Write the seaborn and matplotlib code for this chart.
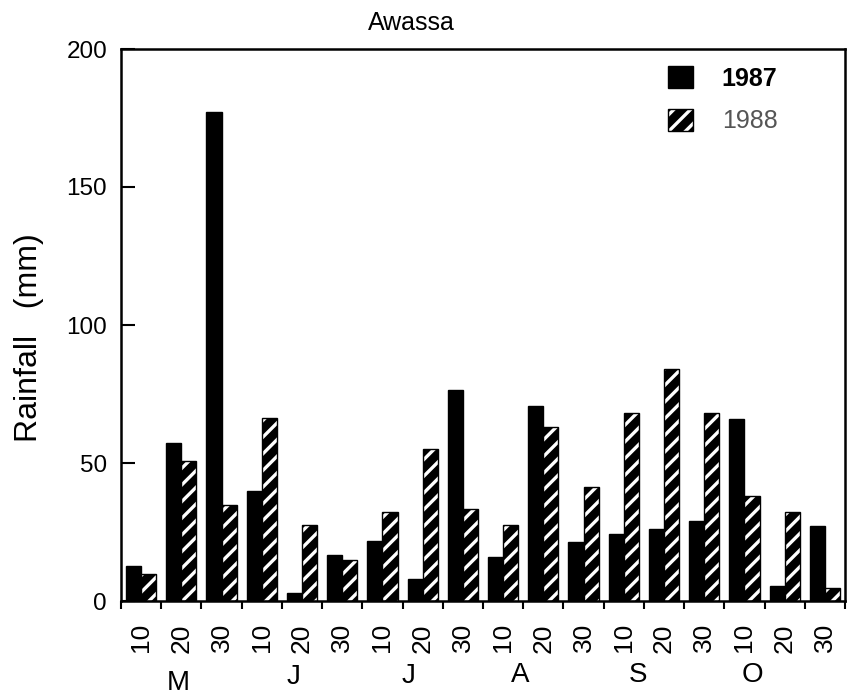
import numpy as np
import pandas as pd
import matplotlib
matplotlib.use("Agg")
import matplotlib.pyplot as plt
import matplotlib.transforms as mtransforms
from matplotlib.patches import Patch
import seaborn as sns

# ---------------- data ----------------
months = ["M", "J", "J", "A", "S", "O"]
dekads = ["10", "20", "30"]
years = ["1987", "1988"]
rain_1987 = [12.7, 57.2, 177.3, 39.8, 3.0, 16.7, 21.7, 7.9, 76.4,
             15.9, 70.8, 21.2, 24.1, 26.1, 29.0, 66.1, 5.6, 27.2]
rain_1988 = [9.7, 50.6, 34.9, 66.4, 27.5, 14.9, 32.3, 54.9, 33.3,
             27.6, 62.9, 41.3, 68.2, 84.1, 68.2, 38.0, 32.1, 4.6]
y_ticks = [0, 50, 100, 150, 200]

periods = [f"{i}-{d}" for i, m in enumerate(months) for d in dekads]
df = pd.DataFrame({
    "period": periods * 2,
    "year": [years[0]] * len(periods) + [years[1]] * len(periods),
    "rain": rain_1987 + rain_1988,
})

# ---------------- layout constants ----------------
W, H = 847, 695
ax_l, ax_r, ax_t, ax_b = 121, 845, 49, 601
month_x = [0.92, 3.78, 6.64, 9.42, 12.35, 15.21]   # label positions (category units)
month_ypx = [683, 677, 676, 675, 675, 675]

sns.set_theme(style="white")
plt.rcParams["font.family"] = ["Liberation Sans", "DejaVu Sans"]
plt.rcParams["hatch.linewidth"] = 2.4

fig = plt.figure(figsize=(W / 100, H / 100), dpi=100)
ax = fig.add_axes([ax_l / W, (H - ax_b) / H, (ax_r - ax_l) / W, (ax_b - ax_t) / H])

sns.barplot(data=df, x="period", y="rain", hue="year", order=periods,
            hue_order=years, palette=["black", "black"], width=0.75, gap=0,
            saturation=1, edgecolor="black", linewidth=1.0, errorbar=None,
            legend=False, ax=ax)

white = (1, 1, 1, 1)


def white_hatch(p):
    p.set_hatch("//")
    if hasattr(p, "set_hatchcolor"):
        p.set_hatchcolor("white")
    else:
        p._hatch_color = white


for p in ax.containers[1]:
    white_hatch(p)

# axes
ax.set_ylim(0, 200)
ax.set_xlim(-0.5, len(periods) - 0.5)
ax.set_xlabel("")
ax.set_ylabel("")
for s in ax.spines.values():
    s.set_visible(True)
    s.set_color("black")
    s.set_linewidth(1.8)

ax.set_yticks(y_ticks)
ax.set_yticklabels([str(v) for v in y_ticks])
ax.tick_params(axis="y", direction="in", length=10, width=1.5, left=True,
               pad=10, labelsize=17.5, colors="black")

ax.set_xticks(range(len(periods)))
ax.set_xticklabels(dekads * len(months), rotation=90)
ax.tick_params(axis="x", which="major", length=0, pad=16, labelsize=19,
               colors="black", bottom=True)
ax.set_xticks(np.arange(-0.5, len(periods), 1), minor=True)
ax.tick_params(axis="x", which="minor", length=6, width=1.5,
               direction="out", bottom=True, color="black")

# month letters
trans = mtransforms.blended_transform_factory(ax.transData, ax.transAxes)
for m, xm, ypx in zip(months, month_x, month_ypx):
    ax.text(xm, (ax_b - ypx) / (ax_b - ax_t), m, transform=trans,
            ha="center", va="center", fontsize=20, color="black")

# title and y label
fig.text(411 / W, 1 - 23 / H, "Awassa", ha="center", va="center",
         fontsize=18, color="black")
fig.text(29 / W, 1 - 338 / H, "Rainfall   (mm)", rotation=90,
         ha="center", va="center", fontsize=23, color="black")

# legend
handles = [Patch(facecolor="black", edgecolor="black"),
           Patch(facecolor="black", edgecolor="black", hatch="//")]
leg = ax.legend(handles, years, loc="upper left",
                bbox_to_anchor=((668 - ax_l) / (ax_r - ax_l), (ax_b - 66) / (ax_b - ax_t)),
                borderaxespad=0, borderpad=0, frameon=False, fontsize=18,
                handlelength=1.0, handleheight=1.0, handletextpad=1.15,
                labelspacing=0.72)
lp = leg.get_patches()
white_hatch(lp[1])
lt = leg.get_texts()
lt[0].set_fontweight("bold")
lt[0].set_color("black")
lt[1].set_color("#555555")

fig.savefig("out.png", dpi=100)
